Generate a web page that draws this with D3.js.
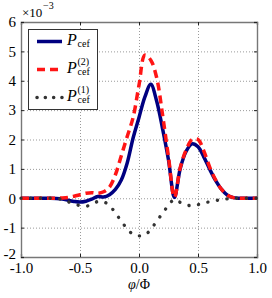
<!DOCTYPE html>
<html>
<head>
<meta charset="utf-8">
<script src="https://cdnjs.cloudflare.com/ajax/libs/d3/7.8.5/d3.min.js"></script>
<style>
  html, body { margin: 0; padding: 0; background: #fff; }
  text { font-family: "Liberation Serif", "DejaVu Serif", serif; fill: #000; }
</style>
</head>
<body>
<div id="chart"></div>
<script>
// phi / Phi sample points
const phi = [-1.00, -0.95, -0.90, -0.85, -0.80, -0.75, -0.70, -0.65, -0.60, -0.55,
             -0.50, -0.45, -0.40, -0.35, -0.30, -0.25, -0.20, -0.15, -0.10, -0.05,
              0.00,  0.05,  0.10,  0.15,  0.20,  0.25,  0.30,  0.35,  0.40,  0.45,
              0.50,  0.55,  0.60,  0.65,  0.70,  0.75,  0.80,  0.85,  0.90,  0.95, 1.00];

// P_cef (x 1e-3)
const pCef = [0, 0, 0, 0, 0, 0, -0.01, -0.03, -0.07, -0.11,
              -0.13, -0.10, -0.03, 0.06, 0.04, 0.12, 0.30, 0.62, 1.20, 2.05,
              2.75, 3.45, 3.88, 3.30, 2.36, 1.30, 0.03, 1.02, 1.60, 1.85,
              1.75, 1.40, 0.98, 0.60, 0.30, 0.10, 0.02, 0, 0, 0, 0];

// P_cef^(2)
const pCef2 = [0, 0, 0, 0, 0, 0, 0, 0.01, 0.03, 0.07,
               0.12, 0.17, 0.19, 0.17, 0.22, 0.38, 0.80, 1.45, 2.10, 2.75,
               3.85, 4.87, 4.70, 4.10, 2.83, 1.40, 0.03, 1.05, 1.65, 2.00,
               2.00, 1.60, 1.05, 0.62, 0.30, 0.10, 0.02, 0, 0, 0, 0];

// P_cef^(1)
const pCef1 = [0, 0, 0, 0, 0, 0, 0, -0.05, -0.12, -0.20,
               -0.25, -0.27, -0.22, -0.11, -0.12, -0.25, -0.50, -0.78, -1.04, -1.23,
               -1.28, -1.25, -1.06, -0.78, -0.51, -0.24, -0.04, -0.14, -0.22, -0.26,
               -0.22, -0.16, -0.12, -0.08, -0.05, -0.02, 0, 0, 0, 0, 0];

const xTicks = [-1, -0.5, 0, 0.5, 1];
const yTicks = [-2, -1, 0, 1, 2, 3, 4, 5, 6];

let width  = 272,
    height = 298;

let margin = { left: 21, right: 15, top: 22, bottom: 41 };

let svg = d3.select("#chart")
  .append("svg")
  .attr("width", width)
  .attr("height", height);

let x = d3.scaleLinear()
  .domain([-1, 1])
  .range([margin.left, width - margin.right]);

let y = d3.scaleLinear()
  .domain([-2, 6])
  .range([height - margin.bottom, margin.top]);

// dotted grid
let grid = svg.append("g").attr("class", "grid")
  .attr("stroke", "#9a9a9a")
  .attr("stroke-width", 1)
  .attr("stroke-dasharray", "1,2");

grid.selectAll(".gx")
  .data(xTicks.slice(1, -1))
  .enter().append("line")
  .attr("x1", d => x(d) + 0.5).attr("x2", d => x(d) + 0.5)
  .attr("y1", y(6)).attr("y2", y(-2));

grid.selectAll(".gy")
  .data(yTicks.slice(1, -1))
  .enter().append("line")
  .attr("y1", d => y(d) + 0.5).attr("y2", d => y(d) + 0.5)
  .attr("x1", x(-1)).attr("x2", x(1));

// axes, ticks pointing inward on all four sides
let fmt = d => d.toFixed(1);

svg.append("g")
  .attr("transform", `translate(0,${y(-2)})`)
  .call(d3.axisBottom(x).tickValues(xTicks).tickSize(-3).tickPadding(5).tickFormat(fmt));

svg.append("g")
  .attr("transform", `translate(0,${y(6)})`)
  .call(d3.axisTop(x).tickValues(xTicks).tickSize(-3).tickFormat(""));

let yAxis = svg.append("g")
  .attr("transform", `translate(${x(-1)},0)`)
  .call(d3.axisLeft(y).tickValues(yTicks).tickSize(-3).tickPadding(5).tickFormat(d => String(d)));

svg.append("g")
  .attr("transform", `translate(${x(1)},0)`)
  .call(d3.axisRight(y).tickValues(yTicks).tickSize(-3).tickFormat(""));

svg.selectAll(".domain").attr("stroke", "#777").attr("stroke-width", 1.4);
svg.selectAll(".tick line").attr("stroke", "#222");
svg.selectAll(".tick text")
  .style("font-family", '"Liberation Serif", serif')
  .style("font-size", "15px")
  .attr("fill", "#000");

// lowest y label sits just above the -1.0 label
yAxis.selectAll(".tick text").filter(d => d === -2).attr("dy", "0.1em");

// curves
let line = (vals) => d3.line()
  .x((d, i) => x(phi[i]))
  .y(d => y(d))
  .curve(d3.curveCatmullRom.alpha(0.5))(vals);

svg.append("path")
  .attr("d", line(pCef))
  .attr("fill", "none")
  .attr("stroke", "#000080")
  .attr("stroke-width", 3.5);

svg.append("path")
  .attr("d", line(pCef2))
  .attr("fill", "none")
  .attr("stroke", "#ff1515")
  .attr("stroke-width", 3.5)
  .attr("stroke-dasharray", "8,5");

svg.append("path")
  .attr("d", line(pCef1))
  .attr("fill", "none")
  .attr("stroke", "#333")
  .attr("stroke-width", 3.4)
  .attr("stroke-linecap", "round")
  .attr("stroke-dasharray", "0.1,9.6");

// scale factor label
svg.append("text")
  .attr("x", 22).attr("y", 17)
  .style("font-size", "13px")
  .text("\u00d710");
svg.append("text")
  .attr("x", 43).attr("y", 9)
  .style("font-size", "10px")
  .text("\u22123");

// x axis label
let xl = svg.append("text")
  .attr("x", x(0)).attr("y", 289)
  .attr("text-anchor", "middle")
  .style("font-size", "14px");
xl.append("tspan").style("font-style", "italic").text("\u03c6");
xl.append("tspan").text("/\u03a6");

// legend
let legend = svg.append("g");
legend.append("rect")
  .attr("x", 28.5).attr("y", 29.5)
  .attr("width", 69).attr("height", 80)
  .attr("fill", "#fff")
  .attr("stroke", "#333")
  .attr("stroke-width", 1);

let items = [
  { label: "", color: "#000080", dash: null, cap: "butt" },
  { label: "(2)", color: "#ff1515", dash: "8,5", cap: "butt" },
  { label: "(1)", color: "#333", dash: "0.1,8.2", cap: "round" }
];
let rowY = [41.5, 69.5, 97.5];

items.forEach((it, i) => {
  let cy = rowY[i];
  legend.append("line")
    .attr("x1", 37).attr("x2", 62)
    .attr("y1", cy).attr("y2", cy)
    .attr("stroke", it.color)
    .attr("stroke-width", 3.5)
    .attr("stroke-linecap", it.cap)
    .attr("stroke-dasharray", it.dash);
  legend.append("text")
    .attr("x", 67).attr("y", cy + 3.5)
    .style("font-size", "16px")
    .style("font-style", "italic")
    .text("P");
  legend.append("text")
    .attr("x", 77.5).attr("y", cy + 5.5)
    .style("font-size", "10px")
    .text("cef");
  if (it.label) {
    legend.append("text")
      .attr("x", 77.5).attr("y", cy - 5)
      .style("font-size", "10px")
      .text(it.label);
  }
});
</script>
</body>
</html>
